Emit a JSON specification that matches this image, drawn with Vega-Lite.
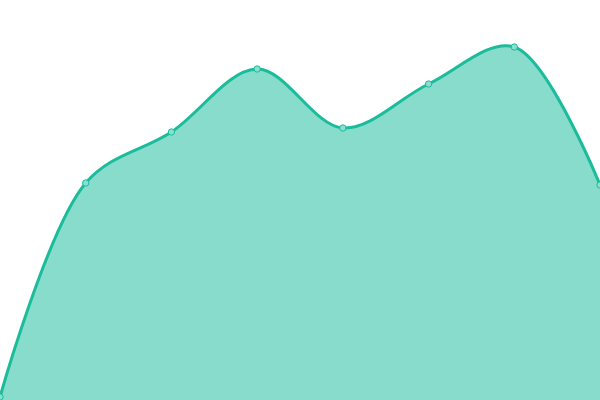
{
  "$schema": "https://vega.github.io/schema/vega-lite/v6.json",
  "autosize": {"type": "none"},
  "width": 600,
  "height": 400,
  "padding": 0,
  "data": {
    "values": [
      {"step": 0, "value": 3},
      {"step": 1, "value": 217},
      {"step": 2, "value": 268},
      {"step": 3, "value": 331},
      {"step": 4, "value": 272},
      {"step": 5, "value": 316},
      {"step": 6, "value": 353},
      {"step": 7, "value": 215}
    ]
  },
  "encoding": {
    "x": {"field": "step", "type": "quantitative", "scale": {"domain": [0, 7], "nice": false, "zero": false}, "axis": null},
    "y": {"field": "value", "type": "quantitative", "scale": {"domain": [0, 400], "nice": false}, "axis": null}
  },
  "layer": [
    {"mark": {"type": "area", "interpolate": "catmull-rom", "color": "#1abc9c", "opacity": 0.52}},
    {"mark": {"type": "line", "interpolate": "catmull-rom", "color": "#1abc9c", "strokeWidth": 3}},
    {"mark": {"type": "point", "filled": true, "fill": "#8ae0d0", "stroke": "#1abc9c", "strokeWidth": 1, "size": 40, "opacity": 1}}
  ],
  "config": {
    "view": {"stroke": "transparent"}
  }
}
